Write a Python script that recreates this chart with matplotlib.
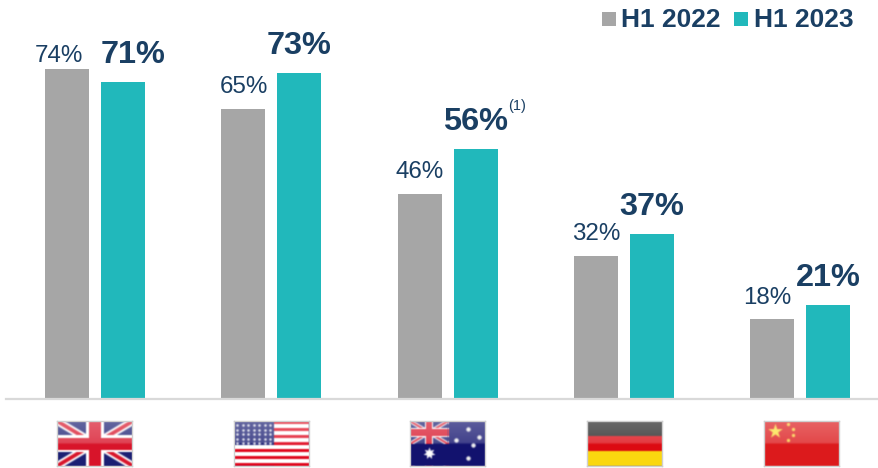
import matplotlib
matplotlib.use('Agg')
import matplotlib.pyplot as plt
from matplotlib.patches import Rectangle, Polygon
import numpy as np

plt.rcParams['font.family'] = ['Liberation Sans', 'DejaVu Sans']

W = 879
H = 468
BASE = 399      # pixel row of the axis line
PX_PER_PCT = 4.46

countries = ['UK', 'USA', 'Australia', 'Germany', 'China']
h1_2022 = [74, 65, 46, 32, 18]
h1_2023 = [71, 73, 56, 37, 21]
legend_names = ['H1 2022', 'H1 2023']

GREY = '#a6a6a6'
TEAL = '#21b8bb'
NAVY = '#1a3f63'

fig = plt.figure(figsize=(W / 100, H / 100), dpi=100)
ax = fig.add_axes([0, 1 - BASE / H, 1, BASE / H])
ax.set_xlim(0, W)
ax.set_ylim(0, BASE / PX_PER_PCT)
ax.axis('off')

x = 95.2 + np.arange(len(countries)) * 176.25
ax.bar(x - 28, h1_2022, 44, color=GREY)
ax.bar(x + 28, h1_2023, 44, color=TEAL)
ax.plot([6, W], [0, 0], color='#d9d9d9', lw=1.6, clip_on=False)

#label nudges in pixels, the first pair of bars is squeezed under the legend
grey_dx = [-8, 0, 0, 0, -5]
grey_dy = [7, 16, 16, 16, 15]
teal_dx = [10, 0, 0, 0, 0]

for i in range(len(countries)):
    ax.annotate('%d%%' % h1_2022[i], (x[i] - 28, h1_2022[i]),
                xytext=(grey_dx[i], grey_dy[i]), textcoords='offset pixels',
                ha='center', va='baseline', fontsize=17.4, color=NAVY)
    ax.annotate('%d%%' % h1_2023[i], (x[i] + 28, h1_2023[i]),
                xytext=(teal_dx[i], 19), textcoords='offset pixels',
                ha='center', va='baseline', fontsize=23.4, fontweight='bold',
                color=NAVY, annotation_clip=False)

fig.text(508 / W, 1 - 110 / H, '(1)', fontsize=10.5, color=NAVY, ha='left', va='baseline')

#legend
for lx, tx, col, name in zip([602, 734], [621, 754], [GREY, TEAL], legend_names):
    fig.patches.append(Rectangle((lx / W, 1 - 26 / H), 14 / W, 14 / H, transform=fig.transFigure,
                                 figure=fig, color=col, lw=0))
    fig.text(tx / W, 1 - 27 / H, name, fontsize=19, fontweight='bold', color=NAVY,
             ha='left', va='baseline')


#Flags
def rect(a, x0, y0, w, h, c):
    a.add_patch(Rectangle((x0, y0), w, h, color=c, lw=0))

def poly(a, pts, c):
    a.add_patch(Polygon(pts, color=c, lw=0))

def union_jack(a, w, h, x0=0, y0=0):
    rect(a, x0, y0, w, h, '#1b1f73')
    sx = w / 60
    sy = h / 30
    def P(p):
        return [(x0 + q[0] * sx, y0 + q[1] * sy) for q in p]
    poly(a, P([(0, 0), (6, 0), (60, 27), (60, 30), (54, 30), (0, 3)]), 'white')
    poly(a, P([(0, 30), (0, 27), (54, 0), (60, 0), (60, 3), (6, 30)]), 'white')
    poly(a, P([(0, 0), (3, 0), (60, 28.5), (60, 30), (57, 30), (0, 1.5)]), '#d8142a')
    poly(a, P([(0, 30), (0, 28.5), (57, 0), (60, 0), (60, 1.5), (3, 30)]), '#d8142a')
    rect(a, x0 + 23 * sx, y0, 14 * sx, h, 'white')
    rect(a, x0, y0 + 9.5 * sy, w, 11 * sy, 'white')
    rect(a, x0 + 25.5 * sx, y0, 9 * sx, h, '#d8142a')
    rect(a, x0, y0 + 11 * sy, w, 8 * sy, '#d8142a')

def flag_uk(a):
    union_jack(a, 75, 45)

def flag_usa(a):
    rect(a, 0, 0, 75, 45, 'white')
    for k in range(0, 13, 2):
        rect(a, 0, k * 45 / 13, 75, 45 / 13, '#e0081e')
    rect(a, 0, 45 * 6 / 13, 40, 45 * 7 / 13, '#1b1f73')
    sx = [3 + 5.5 * k for k in range(7)]
    sy = [23 + 4.4 * k for k in range(5)]
    a.scatter(np.repeat(sx, 5), np.tile(sy, 7), s=3, c='white', lw=0)

def flag_aus(a):
    rect(a, 0, 0, 75, 45, '#12126e')
    union_jack(a, 38, 23, 0, 22)
    a.scatter([19], [13], s=75, c='white', marker=(7, 1), lw=0)
    a.scatter([57, 68, 45, 62, 57], [37, 29, 26, 21, 8], s=10, c='#eeeeee', lw=0)

def flag_ger(a):
    rect(a, 0, 30, 75, 15, '#222222')
    rect(a, 0, 15, 75, 15, '#dc0a12')
    rect(a, 0, 0, 75, 15, '#fad70f')

def flag_cn(a):
    rect(a, 0, 0, 75, 45, '#dc1a1c')
    a.scatter([11], [35], s=120, c='#fbe23c', marker='*', lw=0)
    a.scatter([24, 29, 29, 24], [42, 37, 31, 26], s=6, c='#fbc83c', lw=0)

flag_funcs = [flag_uk, flag_usa, flag_aus, flag_ger, flag_cn]
flag_left = [57, 234, 410, 587, 764]
FLAG_TOP = 421
FLAG_W = 75
FLAG_H = 45

def soften(img):
    #light blur, the flags in the original are scaled up bitmaps
    k = [0.22, 0.56, 0.22]
    out = img.astype(float)
    for axis in (0, 1):
        out = k[0] * np.roll(out, 1, axis) + k[1] * out + k[2] * np.roll(out, -1, axis)
    return out / 255

def render_flag(fn):
    #draw the flag on its own little canvas and give back the pixels
    f2 = plt.figure(figsize=(FLAG_W / 100, FLAG_H / 100), dpi=100)
    a = f2.add_axes([0, 0, 1, 1])
    a.set_xlim(0, FLAG_W)
    a.set_ylim(0, FLAG_H)
    a.axis('off')
    fn(a)
    #gloss on the top half
    shade = np.zeros((64, 1, 4))
    shade[:, :, :3] = 1
    shade[:, 0, 3] = np.where(np.arange(64) < 32, 0.32 - 0.12 * np.arange(64) / 32, 0)
    a.imshow(shade, extent=(0, FLAG_W, 0, FLAG_H), aspect='auto', zorder=5)
    f2.canvas.draw()
    img = np.asarray(f2.canvas.buffer_rgba())[:, :, :3].copy()
    plt.close(f2)
    return soften(img)

for fn, left in zip(flag_funcs, flag_left):
    fa = fig.add_axes([left / W, 1 - (FLAG_TOP + FLAG_H) / H, FLAG_W / W, FLAG_H / H])
    fa.imshow(render_flag(fn), aspect='auto', interpolation='nearest')
    fa.set_xticks([])
    fa.set_yticks([])
    for s in fa.spines.values():
        s.set_color('#cfcfcf')
        s.set_linewidth(1.0)

fig.savefig('out.png', dpi=100)
